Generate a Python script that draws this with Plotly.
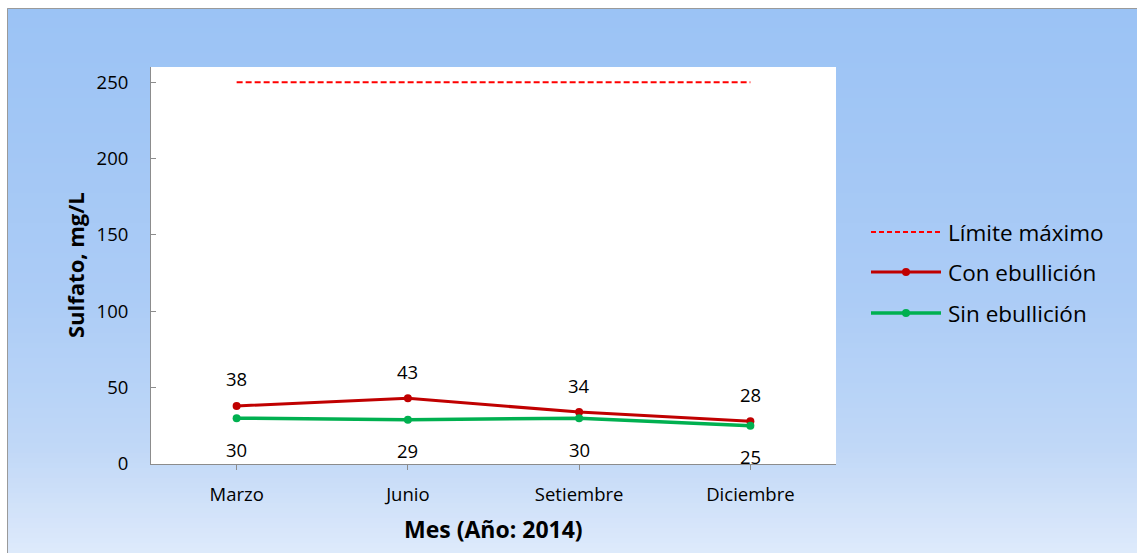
import numpy as np
import plotly.graph_objects as go

# Monthly sulfate readings (mg/L), 2014
meses = ["Marzo", "Junio", "Setiembre", "Diciembre"]
con_ebullicion = [38, 43, 34, 28]
sin_ebullicion = [30, 29, 30, 25]
limite_maximo = [250, 250, 250, 250]
y_ticks = [0, 50, 100, 150, 200, 250]

W, H = 1137, 553
L, R, T, B = 151, 836, 67, 464  # plot area in pixels
FONT = "'Open Sans', Lato, sans-serif"


def px(x):
    return (x - L) / (R - L)


def py(y):
    return (B - y) / (B - T)


fig = go.Figure()

fig.add_trace(go.Scatter(
    x=meses, y=limite_maximo, mode="lines", name="Límite máximo",
    line=dict(color="#FF0000", width=2, dash="6px,3px"), showlegend=False,
))
fig.add_trace(go.Scatter(
    x=meses, y=con_ebullicion, mode="lines+markers", name="Con ebullición",
    line=dict(color="#C00000", width=3), marker=dict(size=8, color="#C00000"),
    showlegend=False,
))
fig.add_trace(go.Scatter(
    x=meses, y=sin_ebullicion, mode="lines+markers", name="Sin ebullición",
    line=dict(color="#00B050", width=3.5), marker=dict(size=8, color="#00B050"),
    showlegend=False,
))

shapes = []
# vertical background gradient of the chart area
stops = [(8, (155, 195, 245)), (150, (163, 199, 245)), (300, (172, 204, 246)),
         (400, (185, 212, 247)), (450, (193, 216, 247)), (553, (222, 234, 251))]
sy = np.array([s[0] for s in stops], dtype=float)
sc = np.array([s[1] for s in stops], dtype=float)
edges = np.linspace(8, H, 110)
for y0, y1 in zip(edges[:-1], edges[1:]):
    ym = (y0 + y1) / 2
    c = [int(round(np.interp(ym, sy, sc[:, k]))) for k in range(3)]
    shapes.append(dict(type="rect", xref="paper", yref="paper",
                       x0=px(7), x1=px(W + 2), y0=py(y1 + 0.6), y1=py(y0),
                       fillcolor=f"rgb({c[0]},{c[1]},{c[2]})", line=dict(width=0),
                       layer="below"))
# white plot area
shapes.append(dict(type="rect", xref="paper", yref="paper", x0=0, x1=1, y0=0, y1=1,
                   fillcolor="white", line=dict(width=0), layer="below"))
# chart frame (left and top edges)
shapes.append(dict(type="line", xref="paper", yref="paper", x0=px(7.5), x1=px(7.5),
                   y0=py(H + 2), y1=py(8.5), line=dict(color="#9A9A9A", width=1)))
shapes.append(dict(type="line", xref="paper", yref="paper", x0=px(7.5), x1=px(W + 2),
                   y0=py(8.5), y1=py(8.5), line=dict(color="#9A9A9A", width=1)))

# legend drawn by hand
leg_x0, leg_x1, leg_tx = 871, 941, 946
leg_rows = [
    (232, "Límite máximo", "#FF0000", 2, "dash", False),
    (272, "Con ebullición", "#C00000", 3, "solid", True),
    (313, "Sin ebullición", "#00B050", 3.5, "solid", True),
]
annotations = []
for yy, label, col, w, dash, mk in leg_rows:
    shapes.append(dict(type="line", xref="paper", yref="paper",
                       x0=px(leg_x0), x1=px(leg_x1), y0=py(yy), y1=py(yy),
                       line=dict(color=col, width=w, dash="5px,3px" if dash == "dash" else "solid")))
    if mk:
        cx = (leg_x0 + leg_x1) / 2
        shapes.append(dict(type="circle", xref="paper", yref="paper",
                           x0=px(cx - 4), x1=px(cx + 4), y0=py(yy + 4), y1=py(yy - 4),
                           fillcolor=col, line=dict(width=0)))
    annotations.append(dict(xref="paper", yref="paper", x=px(leg_tx), y=py(yy),
                            text=label, showarrow=False, xanchor="left", yanchor="middle",
                            font=dict(family=FONT, size=22.5, color="black")))

# data labels
for m, v in zip(meses, con_ebullicion):
    annotations.append(dict(x=m, y=v, text=str(v), showarrow=False, yshift=27,
                            font=dict(family=FONT, size=18.5, color="black")))
for m, v in zip(meses, sin_ebullicion):
    annotations.append(dict(x=m, y=v, text=str(v), showarrow=False, yshift=-31,
                            font=dict(family=FONT, size=18.5, color="black")))

# axis titles
annotations.append(dict(xref="paper", yref="paper", x=px(75), y=py(265),
                        text="<b>Sulfato, mg/L</b>", textangle=-90, showarrow=False,
                        xanchor="center", yanchor="middle",
                        font=dict(family=FONT, size=22, color="black")))
annotations.append(dict(xref="paper", yref="paper", x=px(493), y=py(529),
                        text="<b>Mes (Año: 2014)</b>", showarrow=False,
                        xanchor="center", yanchor="middle",
                        font=dict(family=FONT, size=23, color="black")))

fig.update_layout(
    width=W, height=H,
    margin=dict(l=L, r=W - R, t=T, b=H - B, pad=0),
    paper_bgcolor="white", plot_bgcolor="rgba(0,0,0,0)",
    shapes=shapes, annotations=annotations,
    showlegend=False,
    xaxis=dict(type="category", range=[-0.5, 3.5], showline=True, linecolor="#8C8C8C",
               linewidth=1, ticks="outside", ticklen=5, tickcolor="#8C8C8C",
               showgrid=False, zeroline=False, ticklabelstandoff=9,
               tickfont=dict(family=FONT, size=18.5, color="black")),
    yaxis=dict(range=[0, 260], tickvals=y_ticks, showline=True, linecolor="#8C8C8C",
               linewidth=1, ticks="inside", ticklen=5, tickcolor="#8C8C8C",
               showgrid=False, zeroline=False, ticklabelstandoff=18,
               tickfont=dict(family=FONT, size=18.5, color="black")),
)

fig.write_html("out.html")
